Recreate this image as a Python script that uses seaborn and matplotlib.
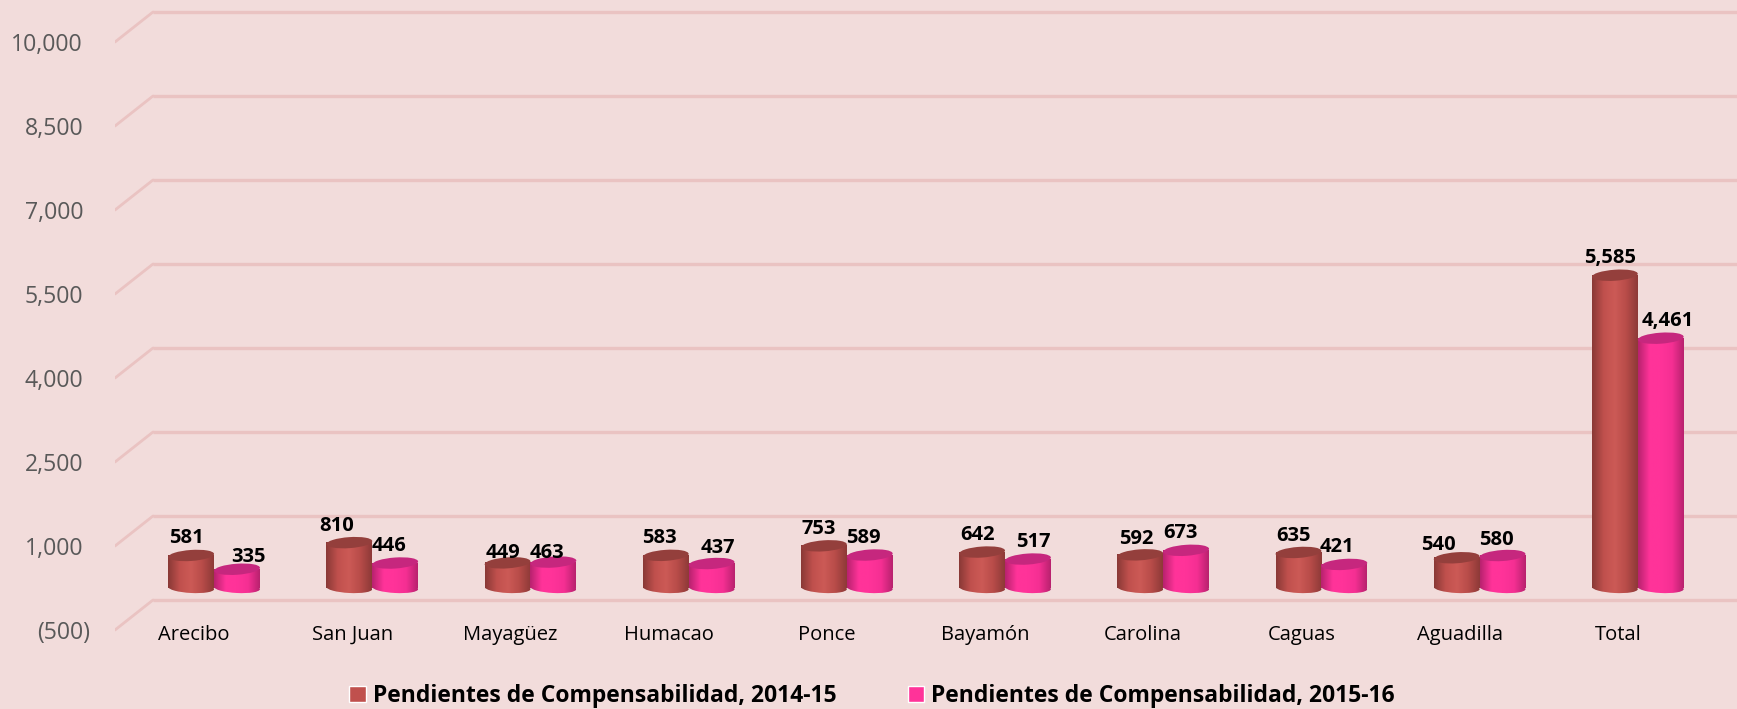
import matplotlib
matplotlib.use("Agg")
import matplotlib.pyplot as plt
import matplotlib.transforms as mtrans
from matplotlib.colors import LinearSegmentedColormap
from matplotlib.patches import Ellipse
import numpy as np
import pandas as pd
import seaborn as sns

regions = ["Arecibo", "San Juan", "Mayagüez", "Humacao", "Ponce", "Bayamón",
           "Carolina", "Caguas", "Aguadilla", "Total"]
pend1415 = [581, 810, 449, 583, 753, 642, 592, 635, 540, 5585]
pend1516 = [335, 446, 463, 437, 589, 517, 673, 421, 580, 4461]
name1415 = "Pendientes de Compensabilidad, 2014-15"
name1516 = "Pendientes de Compensabilidad, 2015-16"
yticks = [10000, 8500, 7000, 5500, 4000, 2500, 1000, -500]
yticklabels = ["10,000", "8,500", "7,000", "5,500", "4,000", "2,500", "1,000", "(500)"]

# label nudges in pixels from the centre of each bar top
dx1415 = [-5, -13, -5, -6, -5, -5, -4, -5, -18, -5]
dx1516 = [11, -6, -6, 6, -6, 5, -6, -7, -6, 7]
dy1415 = [17, 17, 10, 17, 17, 17, 16, 16, 13, 17]
dy1516 = [12, 17, 9, 16, 17, 17, 17, 17, 16, 17]

W, H = 1737, 709
PX = 84 / 1500  # pixels per unit
BG = "#F2DCDB"
GRID = "#EAC3C2"

sns.set_theme(style="white", rc={"figure.facecolor": BG, "savefig.facecolor": BG})
plt.rcParams["font.family"] = ["Open Sans", "DejaVu Sans"]

fig = plt.figure(figsize=(W / 100, H / 100), dpi=100)

# back wall: gridlines and the value labels
wall = fig.add_axes([115 / W, 0, 1 - 115 / W, 1])
wall.set_facecolor(BG)
wall.set_xlim(115, W)
wall.set_ylim((600 - H) / PX - 500, 600 / PX - 500)
wall.hlines(yticks, 153, W, color=GRID, lw=2.4)
for t in yticks:
    wall.plot([115, 153], [t - 30 / PX, t], color=GRID, lw=2.0, solid_capstyle="round")
wall.set_xticks([])
wall.set_yticks(yticks)
wall.set_yticklabels(yticklabels, fontsize=16.6, color="#595959")
wall.tick_params(axis="y", length=0, pad=23)
down = mtrans.Affine2D().translate(0, -30)
for lab in wall.get_yticklabels():
    shift = down.frozen().translate(7, 0) if lab.get_text() == "(500)" else down
    lab.set_transform(lab.get_transform() + shift)
sns.despine(ax=wall, left=True, bottom=True)

# bars
ax = fig.add_axes([135 / W, (H - 620) / H, 1 - 135 / W, 620 / H])
ax.patch.set_alpha(0)
df = pd.DataFrame({
    "region": regions * 2,
    "value": pend1415 + pend1516,
    "serie": [name1415] * len(regions) + [name1516] * len(regions),
})
sns.barplot(data=df, x="region", y="value", hue="serie", order=regions,
            hue_order=[name1415, name1516], palette=["#C0504D", "#FF3399"],
            width=0.58, saturation=1, ax=ax)
ax.set_xlim(-0.5, (W - 214) / 158.2)
ax.set_ylim((588 - 620) / PX, 588 / PX)
ax.set_xlabel("")
ax.set_ylabel("")
ax.set_yticks([])
ax.tick_params(axis="x", length=0, pad=3.5, labelsize=14.5, labelcolor="black")
left = mtrans.Affine2D().translate(-20, 0)
for lab in ax.get_xticklabels():
    lab.set_transform(lab.get_transform() + left)
sns.despine(ax=ax, left=True, bottom=True)

# cylinder look: gradient body, elliptical bottom and top
styles = [(["#8A3936", "#C0504D", "#CC5A56", "#B84C49", "#8E3A38"], "#943F3C"),
          (["#B9226F", "#FF3399", "#FF3399", "#F52F93", "#B9226F"], "#C6277E")]
shade = np.linspace(0, 1, 64).reshape(1, -1)
ylim = ax.get_ylim()
xlim = ax.get_xlim()
for k, (container, (colors, topcolor)) in enumerate(zip(ax.containers, styles)):
    cmap = LinearSegmentedColormap.from_list("cyl%d" % k, colors)
    z = 3 + k
    for bar in container:
        x0, w, h = bar.get_x(), bar.get_width(), bar.get_height()
        bar.set_visible(False)
        low = ax.transData.transform((x0 + w / 2, 0))
        top = ax.transData.transform((x0 + w / 2, h))
        wpx = w * 158.2
        ax.imshow(shade, cmap=cmap, aspect="auto", zorder=z,
                  extent=(x0, x0 + w, 0, h))
        foot = Ellipse(low, wpx, 10, angle=-3, transform=mtrans.IdentityTransform())
        im = ax.imshow(shade, cmap=cmap, aspect="auto", zorder=z,
                       extent=(x0, x0 + w, -10 / PX, 0))
        im.set_clip_path(foot)
        ax.add_patch(Ellipse(top, wpx, 11, angle=4, transform=mtrans.IdentityTransform(),
                             facecolor=topcolor, edgecolor="none", zorder=z + 0.5))
ax.set_xlim(xlim)
ax.set_ylim(ylim)

# value labels
for container, dxs, dys in zip(ax.containers, [dx1415, dx1516], [dy1415, dy1516]):
    for bar, dx, dy in zip(container, dxs, dys):
        ax.annotate(f"{int(bar.get_height()):,}",
                    (bar.get_x() + bar.get_width() / 2, bar.get_height()),
                    xytext=(dx * 0.72, dy * 0.72), textcoords="offset points",
                    ha="center", va="center", fontsize=14.5, fontweight="bold",
                    color="black", zorder=10)

sns.move_legend(ax, loc="center", bbox_to_anchor=(872 / W, (H - 696) / H),
                bbox_transform=fig.transFigure, ncol=2, frameon=False, title=None,
                fontsize=16.5, handlelength=0.72, handleheight=0.72,
                handletextpad=0.3, columnspacing=3.1)
for txt in ax.get_legend().get_texts():
    txt.set_fontweight("bold")
    txt.set_color("black")

fig.savefig("out.png", dpi=100)
